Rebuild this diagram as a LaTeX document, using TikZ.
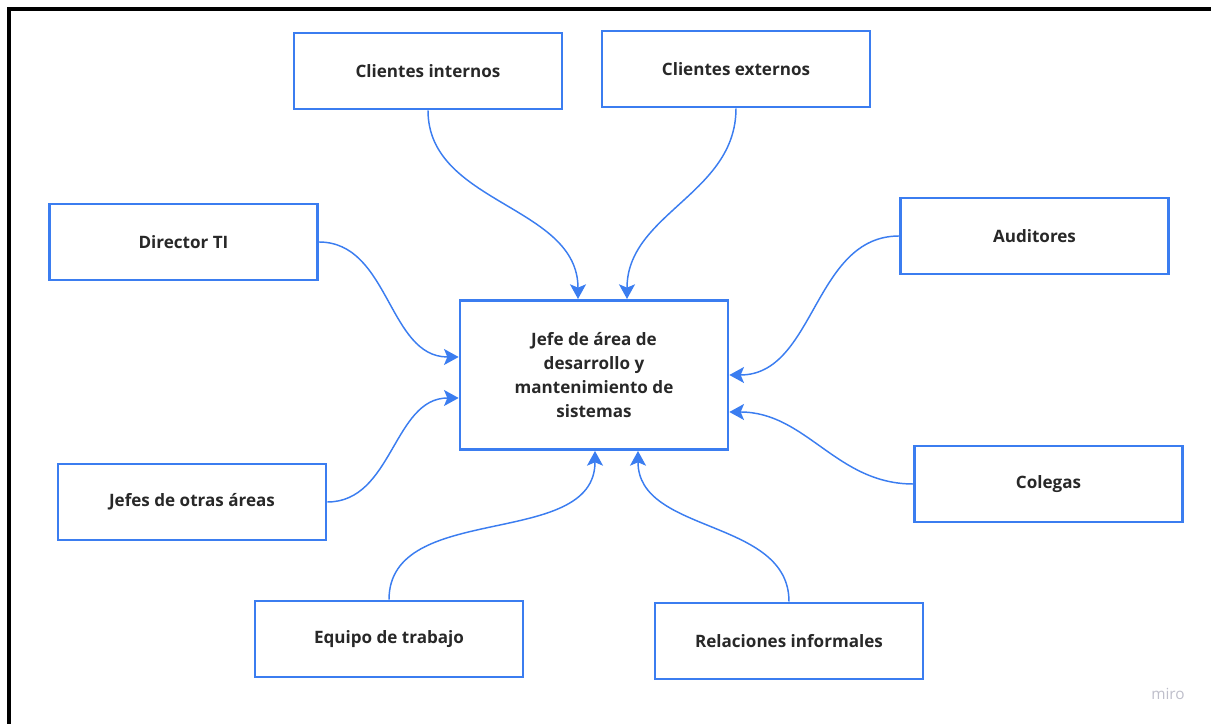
\documentclass[tikz,border=0pt]{standalone}
\usepackage{fontspec}
\setmainfont{Open Sans}
\usepackage{tikz}
\usetikzlibrary{arrows.meta,calc}

\definecolor{miroblue}{RGB}{59,125,240}
\definecolor{txt}{RGB}{40,40,40}
\definecolor{wmark}{RGB}{190,190,202}

\begin{document}
\begin{tikzpicture}[
  x=0.75pt, y=0.75pt,
  box/.style={draw=miroblue, line width=2pt, fill=white, text=txt,
              minimum width=201pt, minimum height=57pt,
              font=\fontsize{12.8}{18}\selectfont\bfseries, align=center},
  link/.style={-{Stealth[length=11pt, width=12pt, inset=2.5pt]}, miroblue, line width=1.1pt}
]
\useasboundingbox (0,0) rectangle (1211,724);
\draw[line width=2.4pt] (9,0) -- (9,715) -- (1211,715);

\node[box, minimum height=112pt] (jefe) at (594,349)
  {Jefe de área de\\desarrollo y\\mantenimiento de\\sistemas};

\node[box] (cint) at (428,653) {Clientes internos};
\node[box] (cext) at (736,655) {Clientes externos};
\node[box] (dir) at (183.5,482) {Director TI};
\node[box] (aud) at (1034.5,488) {Auditores};
\node[box] (jefes) at (192,222) {Jefes de otras áreas};
\node[box] (col) at (1048.5,240) {Colegas};
\node[box] (equipo) at (389,85) {Equipo de trabajo};
\node[box] (rel) at (789,83) {Relaciones informales};

\draw[link] (cint.south) to[out=-90, in=90] ($(jefe.north)+(-16,0)$);
\draw[link] (cext.south) to[out=-90, in=90] ($(jefe.north)+(33,0)$);
\draw[link] (dir.east) to[out=0, in=180] ($(jefe.west)+(0,18)$);
\draw[link] (jefes.east) to[out=0, in=180] ($(jefe.west)+(0,-23)$);
\draw[link] (aud.west) to[out=180, in=0] ($(jefe.east)+(0,0)$);
\draw[link] (col.west) to[out=180, in=0] ($(jefe.east)+(0,-37)$);
\draw[link] (equipo.north) to[out=90, in=-90] ($(jefe.south)+(1,0)$);
\draw[link] (rel.north) to[out=90, in=-90] ($(jefe.south)+(44,0)$);

\node[text=wmark, font=\fontsize{11.5}{13}\selectfont] (logo) at (1168,30) {miro};
\end{tikzpicture}
\end{document}
